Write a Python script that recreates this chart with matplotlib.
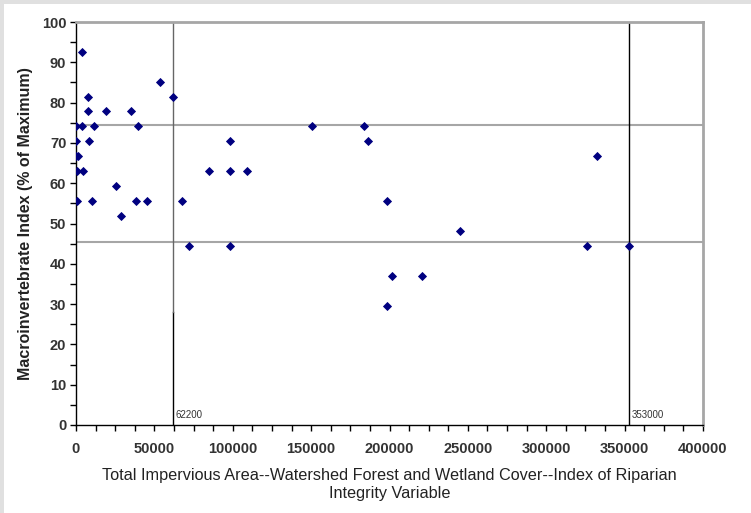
import matplotlib
matplotlib.use("Agg")
import matplotlib.pyplot as plt
from matplotlib.patches import Rectangle
from matplotlib.ticker import MultipleLocator

plt.rcParams['font.family'] = ['Liberation Sans', 'DejaVu Sans']

# data (x: variable value, y: macroinvertebrate index % of max)
x_vals = [4000, 53600, 62200, 7500, 7500, 19100, 34900, 0, 3600, 11300, 39400,
          0, 8100, 98000, 0, 1500, 800, 4700, 84800, 98000, 109300, 25500,
          500, 10000, 38100, 45500, 67400, 28700, 72300, 98400, 150400, 183700,
          186500, 198200, 245000, 201400, 220900, 198400, 332600, 326200, 353000]
y_vals = [92.6, 85.2, 81.5, 81.5, 77.8, 77.8, 77.8, 74.1, 74.1, 74.1, 74.1,
          70.4, 70.4, 70.4, 66.7, 66.7, 63.0, 63.0, 63.0, 63.0, 63.0, 59.3,
          55.6, 55.6, 55.6, 55.6, 55.6, 51.9, 44.4, 44.4, 74.1, 74.1,
          70.4, 55.6, 48.1, 37.0, 37.0, 29.6, 66.7, 44.4, 44.4]
h_lines = [74.4, 45.5]
v_lines = [62200, 353000]
v_labels = ["62200", "353000"]
x_ticks = [0, 50000, 100000, 150000, 200000, 250000, 300000, 350000, 400000]
y_ticks = [0, 10, 20, 30, 40, 50, 60, 70, 80, 90, 100]

fig = plt.figure(figsize=(7.51, 5.13), dpi=100)
fig.patch.set_facecolor('white')
# light gray frame strips (top and left)
fig.add_artist(Rectangle((0, 1 - 4/513), 1, 4/513, transform=fig.transFigure,
                         facecolor='#e0e0e0', edgecolor='none'))
fig.add_artist(Rectangle((0, 0), 4/751, 1, transform=fig.transFigure,
                         facecolor='#e0e0e0', edgecolor='none'))

ax = fig.add_axes([76/751, 1 - 425/513, (703 - 76)/751, (425 - 22)/513])
ax.set_xlim(0, 400000)
ax.set_ylim(0, 100)

for hv in h_lines:
    ax.axhline(hv, color='#a6a6a6', lw=1.5, zorder=1)
# vertical cut-off lines
ax.plot([v_lines[0], v_lines[0]], [0, 28], color='black', lw=1.0, zorder=2)
ax.plot([v_lines[0], v_lines[0]], [28, 100], color='#666666', lw=1.0, zorder=2)
ax.plot([v_lines[1], v_lines[1]], [0, 100], color='black', lw=1.0, zorder=2)
for xv, lab in zip(v_lines, v_labels):
    ax.text(xv + 1500, 1.3, lab, fontsize=7, color='#333333', ha='left', va='bottom')

ax.plot(x_vals, y_vals, linestyle='none', marker='D', markersize=4.3,
        markerfacecolor='#000080', markeredgecolor='#000080', markeredgewidth=0.6,
        zorder=3)

ax.set_xticks(x_ticks)
ax.set_xticklabels([str(t) for t in x_ticks], fontweight='bold')
ax.set_yticks(y_ticks)
ax.set_yticklabels([str(t) for t in y_ticks], fontweight='bold')
ax.xaxis.set_minor_locator(MultipleLocator(12500))
ax.yaxis.set_minor_locator(MultipleLocator(5))
ax.tick_params(axis='both', which='both', direction='out', length=4, width=1,
               color='black', labelsize=10.5, labelcolor='#333333')
ax.tick_params(axis='x', pad=8)
ax.tick_params(axis='y', pad=3)

for s in ['left', 'bottom']:
    ax.spines[s].set_color('black')
    ax.spines[s].set_linewidth(1)
for s in ['top', 'right']:
    ax.spines[s].set_color('#a6a6a6')
    ax.spines[s].set_linewidth(2)

ax.set_xlabel("Total Impervious Area--Watershed Forest and Wetland Cover--Index of Riparian\nIntegrity Variable",
              fontsize=11.7, labelpad=9, linespacing=1.25, color='#222222')
ax.set_ylabel("Macroinvertebrate Index (% of Maximum)", fontsize=11.5,
              fontweight='bold', labelpad=6, color='#222222')

fig.savefig("out.png", dpi=100)
